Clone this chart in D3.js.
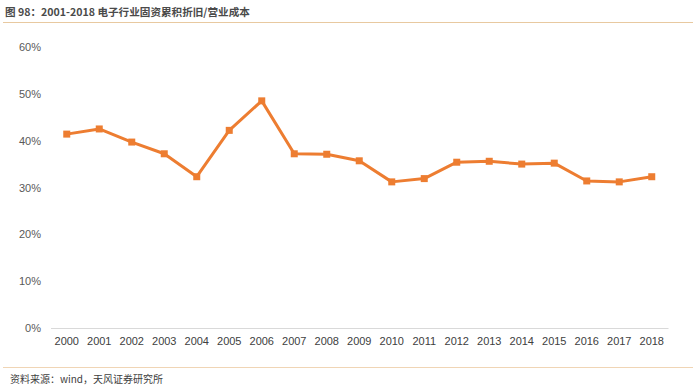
<!DOCTYPE html>
<html><head><meta charset="utf-8">
<script src="https://cdn.jsdelivr.net/npm/d3@7"></script>
<style>body{margin:0;background:#fff}svg{display:block}</style>
</head><body><div id="c"></div>
<script>
const years = ["2000","2001","2002","2003","2004","2005","2006","2007","2008","2009","2010","2011","2012","2013","2014","2015","2016","2017","2018"];
const ratio = [41.4,42.5,39.7,37.2,32.3,42.2,48.5,37.2,37.1,35.7,31.2,31.9,35.4,35.6,35.0,35.2,31.4,31.2,32.3];
const yTicks = [0,10,20,30,40,50,60];
const title = "图 98：2001-2018 电子行业固资累积折旧/营业成本";
const source = "资料来源：wind，天风证券研究所";

const W = 700, H = 392;
const font = "'Noto Sans CJK SC','Noto Sans',sans-serif";
const svg = d3.select("#c").append("svg").attr("width", W).attr("height", H);

// header
svg.append("text").attr("x", 5).attr("y", 16).attr("font-family", font)
  .attr("font-size", 10.6).attr("font-weight", "bold").attr("fill", "#4a4a4a").text(title);
svg.append("line").attr("x1", 3).attr("x2", 693).attr("y1", 22.5).attr("y2", 22.5)
  .attr("stroke", "#e8c9a0").attr("stroke-width", 1.2);

// footer
svg.append("line").attr("x1", 3).attr("x2", 693).attr("y1", 367.5).attr("y2", 367.5)
  .attr("stroke", "#f0d5b5").attr("stroke-width", 1);
svg.append("text").attr("x", 10).attr("y", 383).attr("font-family", font)
  .attr("font-size", 10).attr("fill", "#404040").text(source);

const x = d3.scaleBand().domain(years).range([50.5, 668]).padding(0);
const y = d3.scaleLinear().domain([0, 60]).range([328, 47]);

// y axis labels
const ya = svg.append("g").attr("transform", "translate(41,0)")
  .call(d3.axisLeft(y).tickValues(yTicks).tickSize(0).tickPadding(0).tickFormat(d => d + "%"));
ya.select(".domain").remove();
ya.selectAll("text").attr("font-family", "'Liberation Sans',Arial,sans-serif").attr("font-size", 11).attr("fill", "#595959");

// x axis
const xa = svg.append("g").attr("transform", "translate(0,328)")
  .call(d3.axisBottom(x).tickSize(0).tickPadding(9));
xa.select(".domain").attr("stroke", "#d9d9d9").attr("stroke-width", 1);
xa.selectAll("text").attr("font-family", "'Liberation Sans',Arial,sans-serif").attr("font-size", 11).attr("fill", "#404040");

const cx = d => x(d) + x.bandwidth() / 2;
const data = years.map((yr, i) => ({yr, v: ratio[i]}));

svg.append("path").datum(data)
  .attr("d", d3.line().x(d => cx(d.yr)).y(d => y(d.v)))
  .attr("fill", "none").attr("stroke", "#ED7D31").attr("stroke-width", 3).attr("stroke-linejoin", "round");

svg.selectAll("rect.m").data(data).enter().append("rect").attr("class", "m")
  .attr("x", d => cx(d.yr) - 3.5).attr("y", d => y(d.v) - 3.5)
  .attr("width", 7).attr("height", 7).attr("fill", "#ED7D31");
</script></body></html>
